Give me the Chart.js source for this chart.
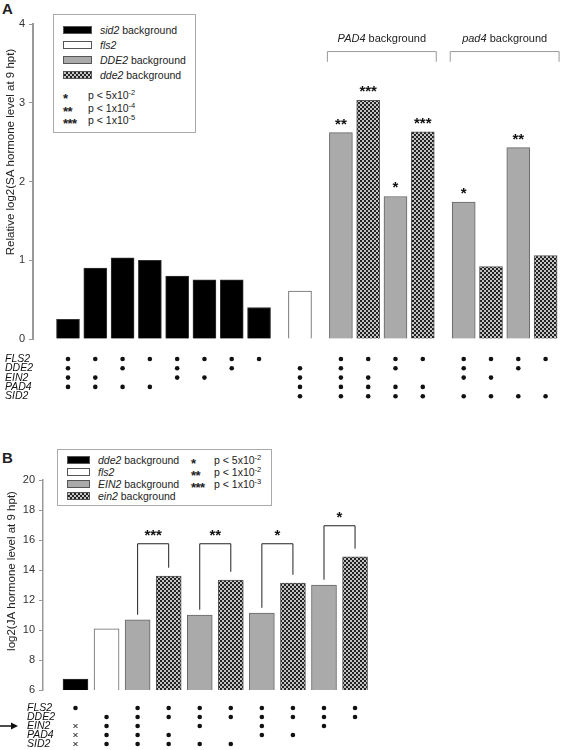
<!DOCTYPE html>
<html>
<head>
<meta charset="utf-8">
<script src="https://cdn.jsdelivr.net/npm/chart.js@4.4.0/dist/chart.umd.min.js"></script>
<style>
  body { margin: 0; background: #fff; width: 561px; height: 750px; position: relative; overflow: hidden;
         font-family: "Liberation Sans", Arial, sans-serif; color: #222; }
  canvas { position: absolute; left: 0; }
  #chartA { top: 0; }
  #chartB { top: 420px; }
  .panel { position: absolute; font-weight: bold; font-size: 15px; left: 2px; }
  .legend { position: absolute; border: 1px solid #aaa; background: #fff; font-size: 10.5px; box-sizing: border-box; }
  .legend div { position: absolute; white-space: nowrap; line-height: 12px; }
  .legend .sw { border: 1px solid #555; box-sizing: border-box; }
  .legend .st { font-size: 13px; font-weight: bold; letter-spacing: -0.5px; }
  .legend sup { font-size: 7.5px; vertical-align: 4px; line-height: 0; }
  .black { background: #000; }
  .white { background: #fff; }
  .grey { background: #aaa; }
  .dots { background: repeating-conic-gradient(#222 0 25%, #c4c4c4 0 50%) 0 0 / 4px 4px; }
</style>
</head>
<body>
<div class="panel" style="top:0px">A</div>
<div class="panel" style="top:449px">B</div>

<div class="legend" style="left:53px;top:14px;width:143px;height:119px">
  <div class="sw black" style="left:9px;top:11px;width:29px;height:8px"></div>
  <div style="left:46px;top:9px"><i>sid2</i> background</div>
  <div class="sw white" style="left:9px;top:26px;width:29px;height:8px"></div>
  <div style="left:46px;top:24px"><i>fls2</i></div>
  <div class="sw grey" style="left:9px;top:41px;width:29px;height:8px"></div>
  <div style="left:46px;top:39px"><i>DDE2</i> background</div>
  <div class="sw dots" style="left:9px;top:56px;width:29px;height:8px"></div>
  <div style="left:46px;top:54px"><i>dde2</i> background</div>
  <div class="st" style="left:9px;top:78px">*</div>
  <div style="left:34px;top:74px">p &lt; 5x10<sup>-2</sup></div>
  <div class="st" style="left:9px;top:91px">**</div>
  <div style="left:34px;top:87px">p &lt; 1x10<sup>-4</sup></div>
  <div class="st" style="left:9px;top:103px">***</div>
  <div style="left:34px;top:99px">p &lt; 1x10<sup>-5</sup></div>
</div>

<div class="legend" style="left:57px;top:449px;width:215px;height:57px">
  <div class="sw black" style="left:9px;top:6px;width:23px;height:8px"></div>
  <div style="left:40px;top:4px"><i>dde2</i> background</div>
  <div class="sw white" style="left:9px;top:18px;width:23px;height:8px"></div>
  <div style="left:40px;top:16px"><i>fls2</i></div>
  <div class="sw grey" style="left:9px;top:30px;width:23px;height:8px"></div>
  <div style="left:40px;top:28px"><i>EIN2</i> background</div>
  <div class="sw dots" style="left:9px;top:42px;width:23px;height:8px"></div>
  <div style="left:40px;top:40px"><i>ein2</i> background</div>
  <div class="st" style="left:133px;top:8px">*</div>
  <div style="left:156px;top:4px">p &lt; 5x10<sup>-2</sup></div>
  <div class="st" style="left:133px;top:20px">**</div>
  <div style="left:156px;top:16px">p &lt; 1x10<sup>-2</sup></div>
  <div class="st" style="left:133px;top:32px">***</div>
  <div style="left:156px;top:28px">p &lt; 1x10<sup>-3</sup></div>
</div>

<canvas id="chartA" width="561" height="420"></canvas>
<canvas id="chartB" width="561" height="330"></canvas>

<script>
// ---- panel A: SA levels ----
const groupsA = [8, 1, 4, 4];
const valuesA = [0.25, 0.90, 1.03, 1.00, 0.80, 0.75, 0.75, 0.40, 0.61,
                 2.62, 3.03, 1.81, 2.63, 1.74, 0.92, 2.43, 1.06];
const fillA = ["black", "black", "black", "black", "black", "black", "black", "black", "white",
               "grey", "dots", "grey", "dots", "grey", "dots", "grey", "dots"];
const sigA = ["", "", "", "", "", "", "", "", "", "**", "***", "*", "***", "*", "", "**", ""];
const bracketsA = [
    { italic: "PAD4", text: " background", from: 9, to: 12 },
    { italic: "pad4", text: " background", from: 13, to: 16 },
];
const genesA = ["FLS2", "DDE2", "EIN2", "PAD4", "SID2"];
const matrixA = [
    [1, 1, 1, 1, 1, 1, 1, 1, 0, 1, 1, 1, 1, 1, 1, 1, 1],
    [1, 0, 1, 0, 1, 0, 1, 0, 1, 1, 0, 1, 0, 1, 0, 1, 0],
    [1, 1, 0, 0, 1, 1, 0, 0, 1, 1, 1, 0, 0, 1, 1, 0, 0],
    [1, 1, 1, 1, 0, 0, 0, 0, 1, 1, 1, 1, 1, 0, 0, 0, 0],
    [0, 0, 0, 0, 0, 0, 0, 0, 1, 1, 1, 1, 1, 1, 1, 1, 1],
];

// ---- panel B: JA levels ----
const valuesB = [6.73, 10.07, 10.67, 13.6, 11.0, 13.33, 11.13, 13.13, 13.0, 14.87];
const fillB = ["black", "white", "grey", "dots", "grey", "dots", "grey", "dots", "grey", "dots"];
const pairsB = [[2, 3], [4, 5], [6, 7], [8, 9]];
const pairSigB = ["***", "**", "*", "*"];
const pairLevelB = [15.75, 15.75, 15.75, 16.95];
const genesB = ["FLS2", "DDE2", "EIN2", "PAD4", "SID2"];
// 1 = present, 2 = cross
const matrixB = [
    [1, 0, 1, 1, 1, 1, 1, 1, 1, 1],
    [0, 1, 1, 1, 1, 1, 1, 1, 1, 1],
    [2, 1, 1, 0, 1, 0, 1, 0, 1, 0],
    [2, 1, 1, 1, 0, 0, 1, 1, 0, 0],
    [2, 1, 1, 1, 1, 1, 0, 0, 0, 0],
];

const FONT = '"Liberation Sans", Arial, sans-serif';
Chart.defaults.font.family = FONT;

function makeDots() {
    const c = document.createElement("canvas");
    c.width = 4; c.height = 4;
    const g = c.getContext("2d");
    g.fillStyle = "#c4c4c4";
    g.fillRect(0, 0, 4, 4);
    g.fillStyle = "#222";
    g.fillRect(0, 0, 2, 2);
    g.fillRect(2, 2, 2, 2);
    return g.createPattern(c, "repeat");
}

function fills(keys) {
    const pat = makeDots();
    const bg = { black: "#000", white: "#fff", grey: "#aaa", dots: pat };
    const bd = { black: "#333", white: "#666", grey: "#666", dots: "#555" };
    return {
        bg: keys.map(k => bg[k]),
        border: keys.map(k => bd[k]),
    };
}

// x positions: one unit per bar, 1.5 between groups
const posA = [];
let p = 0;
groupsA.forEach(n => {
    for (let i = 0; i < n; i++) posA.push(p + i);
    p += n - 1 + 1.5;
});
const posB = valuesB.map((v, i) => i);

function drawMatrix(ctx, x, genes, matrix, positions, labelX, rowY) {
    ctx.save();
    ctx.fillStyle = "#111";
    ctx.strokeStyle = "#111";
    ctx.font = "italic 10.5px " + FONT;
    ctx.textBaseline = "middle";
    genes.forEach((g, r) => {
        const y = rowY(r);
        ctx.textAlign = "left";
        ctx.fillText(g, labelX, y);
        matrix[r].forEach((m, i) => {
            const px = x.getPixelForValue(positions[i]);
            if (m === 1) {
                ctx.beginPath();
                ctx.arc(px, y, 2.3, 0, Math.PI * 2);
                ctx.fill();
            } else if (m === 2) {
                ctx.lineWidth = 1;
                ctx.beginPath();
                ctx.moveTo(px - 2, y - 2); ctx.lineTo(px + 2, y + 2);
                ctx.moveTo(px + 2, y - 2); ctx.lineTo(px - 2, y + 2);
                ctx.stroke();
            }
        });
    });
    ctx.restore();
}

function drawTitle(ctx, text, cx, cy) {
    ctx.save();
    ctx.translate(cx, cy);
    ctx.rotate(-Math.PI / 2);
    ctx.font = "11.5px " + FONT;
    ctx.fillStyle = "#222";
    ctx.textAlign = "center";
    ctx.textBaseline = "middle";
    ctx.fillText(text, 0, 0);
    ctx.restore();
}

function drawStars(ctx, text, px, py) {
    ctx.save();
    ctx.font = "bold 15px " + FONT;
    ctx.fillStyle = "#111";
    ctx.textAlign = "center";
    ctx.textBaseline = "alphabetic";
    ctx.fillText(text, px, py);
    ctx.restore();
}

const extrasA = {
    id: "extrasA",
    afterDraw(chart) {
        const { ctx, scales: { x, y }, chartArea } = chart;
        const half = 11.5;
        sigA.forEach((s, i) => {
            if (s) drawStars(ctx, s, x.getPixelForValue(posA[i]), y.getPixelForValue(valuesA[i]) - 4);
        });
        ctx.save();
        ctx.strokeStyle = "#999";
        ctx.lineWidth = 1;
        bracketsA.forEach(b => {
            const x0 = x.getPixelForValue(posA[b.from]) - half - 2;
            const x1 = x.getPixelForValue(posA[b.to]) + half + 2;
            const yt = y.getPixelForValue(3.65), yb = y.getPixelForValue(3.52);
            ctx.beginPath();
            ctx.moveTo(x0, yb); ctx.lineTo(x0, yt); ctx.lineTo(x1, yt); ctx.lineTo(x1, yb);
            ctx.stroke();
            // label with italic gene name
            ctx.fillStyle = "#222";
            ctx.textBaseline = "middle";
            ctx.font = "italic 11px " + FONT;
            const w1 = ctx.measureText(b.italic).width;
            ctx.font = "11px " + FONT;
            const w2 = ctx.measureText(b.text).width;
            const start = (x0 + x1) / 2 - (w1 + w2) / 2;
            const ly = y.getPixelForValue(3.81);
            ctx.textAlign = "left";
            ctx.font = "italic 11px " + FONT;
            ctx.fillText(b.italic, start, ly);
            ctx.font = "11px " + FONT;
            ctx.fillText(b.text, start + w1, ly);
        });
        ctx.restore();
        drawMatrix(ctx, x, genesA, matrixA, posA, 5, r => chartArea.bottom + 20 + r * 9.3);
        drawTitle(ctx, "Relative log2(SA hormone level at 9 hpt)", 11, 152);
    },
};

const extrasB = {
    id: "extrasB",
    afterDraw(chart) {
        const { ctx, scales: { x, y }, chartArea } = chart;
        ctx.save();
        ctx.strokeStyle = "#222";
        ctx.lineWidth = 1;
        pairsB.forEach(([a, b], k) => {
            const xa = x.getPixelForValue(posB[a]);
            const xb = x.getPixelForValue(posB[b]);
            const yt = y.getPixelForValue(pairLevelB[k]);
            ctx.beginPath();
            ctx.moveTo(xa, y.getPixelForValue(valuesB[a] + 0.35));
            ctx.lineTo(xa, yt);
            ctx.lineTo(xb, yt);
            ctx.lineTo(xb, y.getPixelForValue(valuesB[b] + 0.55));
            ctx.stroke();
            drawStars(ctx, pairSigB[k], (xa + xb) / 2, yt - 4);
        });
        ctx.restore();
        const rowY = r => chartArea.bottom + 18 + r * 9;
        drawMatrix(ctx, x, genesB, matrixB, posB, 27, rowY);
        // arrow pointing at EIN2 row
        ctx.save();
        const ay = rowY(2);
        ctx.strokeStyle = "#111";
        ctx.fillStyle = "#111";
        ctx.lineWidth = 1.5;
        ctx.beginPath();
        ctx.moveTo(0, ay); ctx.lineTo(12, ay);
        ctx.stroke();
        ctx.beginPath();
        ctx.moveTo(18, ay); ctx.lineTo(11, ay - 3.5); ctx.lineTo(11, ay + 3.5);
        ctx.closePath();
        ctx.fill();
        ctx.restore();
        drawTitle(ctx, "log2(JA hormone level at 9 hpt)", 12, 151);
    },
};

function yAxis(min, max, step, width, borderWidth) {
    return {
        min, max,
        afterFit: s => { s.width = width; },
        border: { display: true, color: "#999", width: borderWidth },
        grid: { drawOnChartArea: false, drawTicks: true, tickLength: 4, color: "#999" },
        ticks: { stepSize: step, color: "#333", font: { size: 11 }, padding: 4 },
    };
}

function makeChart(id, values, positions, keys, xr, yopts, thickness, padding, plugin) {
    const ctx = document.getElementById(id).getContext("2d");
    const f = fills(keys);
    return new Chart(ctx, {
        type: "bar",
        data: {
            datasets: [{
                data: values.map((v, i) => ({ x: positions[i], y: v })),
                backgroundColor: f.bg,
                borderColor: f.border,
                borderWidth: 1,
                borderSkipped: "bottom",
                barThickness: thickness,
            }],
        },
        options: {
            responsive: false,
            animation: false,
            layout: { padding },
            plugins: { legend: { display: false }, tooltip: { enabled: false } },
            scales: {
                x: { type: "linear", min: xr[0], max: xr[1], offset: false, display: false },
                y: yopts,
            },
        },
        plugins: [plugin],
    });
}

makeChart("chartA", valuesA, posA, fillA, [-1.2825, 18.065],
    yAxis(0, 4, 1, 33, 2), 23, { top: 24, bottom: 81, left: 0, right: 0 }, extrasA);
makeChart("chartB", valuesB, posB, fillB, [-1.046, 15.63],
    yAxis(6, 20, 2, 43, 1.5), 25, { top: 60, bottom: 60, left: 0, right: 0 }, extrasB);
</script>
</body>
</html>
